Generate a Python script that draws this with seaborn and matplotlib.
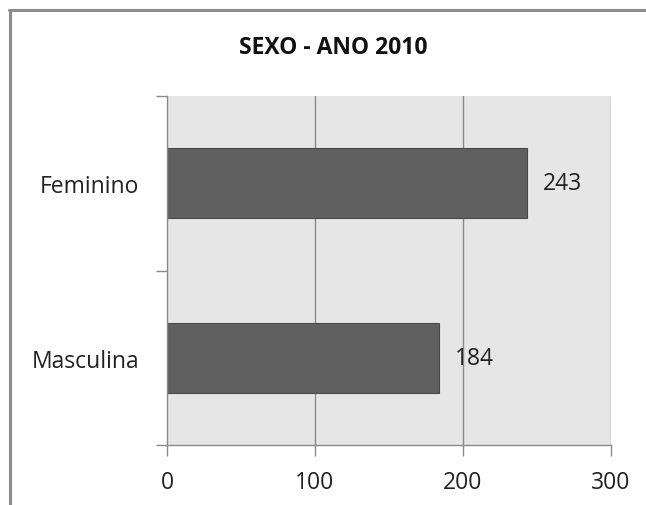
import matplotlib
matplotlib.use("Agg")
import matplotlib.pyplot as plt
from matplotlib.lines import Line2D
import seaborn as sns
import pandas as pd

categories = ["Feminino", "Masculina"]
values = [243, 184]
x_ticks = [0, 100, 200, 300]
title = "SEXO - ANO 2010"

sns.set_theme(style="white")
plt.rcParams["font.family"] = ["Open Sans", "DejaVu Sans"]

df = pd.DataFrame({"sexo": categories, "total": values})

fig = plt.figure(figsize=(6.46, 5.06), dpi=100)
ax = fig.add_axes([167 / 646, 1 - 446 / 506, 444 / 646, 349 / 506])
ax.set_facecolor("#e6e6e6")

sns.barplot(data=df, y="sexo", x="total", orient="h", color="#606060",
            saturation=1, width=0.4, edgecolor="#4a4a4a", linewidth=0.8,
            ax=ax, zorder=3)

ax.set_xlim(0, 300)
ax.set_ylim(1.5, -0.5)
ax.set_xticks(x_ticks)
ax.set_xticklabels([str(t) for t in x_ticks])
ax.set_xlabel("")
ax.set_ylabel("")

# vertical gridlines
for t in x_ticks[1:]:
    ax.axvline(t, color="#8a8a8a", linewidth=1.0, zorder=1)

# category tick marks at band boundaries, labels at band centres
ax.set_yticks([0, 1])
ax.set_yticklabels(categories)
ax.set_yticks([-0.5, 0.5, 1.5], minor=True)
ax.tick_params(axis="y", which="major", length=0, pad=20, labelsize=16.5,
               labelcolor="#222222")
ax.tick_params(axis="y", which="minor", length=8, width=1, color="#8a8a8a",
               left=True)
ax.tick_params(axis="x", which="major", length=8, width=1, color="#8a8a8a",
               pad=10, labelsize=16.5, labelcolor="#222222", bottom=True)

for side in ["top", "right"]:
    ax.spines[side].set_visible(False)
for side in ["left", "bottom"]:
    ax.spines[side].set_color("#8a8a8a")
    ax.spines[side].set_linewidth(1.0)
    ax.spines[side].set_zorder(4)

# value labels
for i, v in enumerate(values):
    ax.annotate(str(v), xy=(v, i), xytext=(16, 0), textcoords="offset pixels",
                ha="left", va="center", fontsize=16.5, color="#222222")

fig.text(333 / 646, 1 - 48 / 506, title, ha="center", va="center",
         fontsize=16.5, fontweight="bold", color="#111111")

# chart frame
fig.add_artist(Line2D([10 / 646, 10 / 646], [0, 1 - 11 / 506],
                      transform=fig.transFigure, color="#8c8c8c", linewidth=2.2))
fig.add_artist(Line2D([9 / 646, 1], [1 - 11 / 506, 1 - 11 / 506],
                      transform=fig.transFigure, color="#8c8c8c", linewidth=2.2))

fig.savefig("out.png", dpi=100)
